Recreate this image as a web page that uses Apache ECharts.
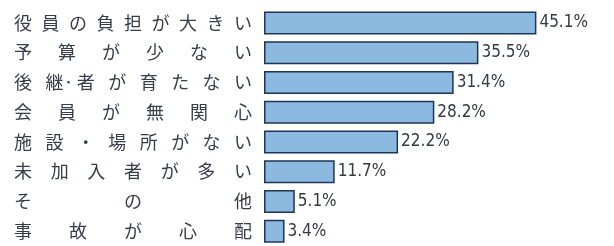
<!DOCTYPE html>
<html>
<head>
<meta charset="utf-8">
<script src="https://cdn.jsdelivr.net/npm/echarts@6/dist/echarts.min.js"></script>
<style>
  html, body { margin: 0; padding: 0; background: #fff; }
  #chart { width: 614px; height: 246px; }
</style>
</head>
<body>
<div id="chart"></div>
<script>
// 項目と割合（%）
const categories = ['役員の負担が大きい', '予算が少ない', '後継·者が育たない', '会員が無関心', '施設・場所がない', '未加入者が多い', 'その他', '事故が心配'];
const values = [45.1, 35.5, 31.4, 28.2, 22.2, 11.7, 5.1, 3.4];

// 文字を均等割りにする：最初の文字から最後の文字までの幅を揃える
const SPAN = 220;
function chars(s) {
  // 中黒の小さい点は前の文字にくっつける
  const out = [];
  for (const ch of s) {
    if (ch === '·' && out.length) out[out.length - 1] += ch;
    else out.push(ch);
  }
  return out;
}
const rich = { e: { width: 20, align: 'left' } };
categories.forEach(c => {
  const n = chars(c).length;
  rich['c' + n] = { width: SPAN / (n - 1), align: 'left' };
});
Object.keys(rich).forEach(k => {
  Object.assign(rich[k], { fontFamily: 'Noto Sans CJK JP', fontSize: 18, color: '#343d48' });
});

const chart = echarts.init(document.getElementById('chart'));
chart.setOption({
  animation: false,
  grid: { left: 264, right: 48, top: 8, height: 243 },
  xAxis: {
    type: 'value',
    min: 0,
    max: 50,
    show: false
  },
  yAxis: {
    type: 'category',
    data: categories,
    inverse: true,
    axisLine: { show: false },
    axisTick: { show: false },
    axisLabel: {
      margin: 10,
      rich: rich,
      formatter: (s) => {
        const cs = chars(s);
        const n = cs.length;
        return cs.map((ch, i) => i === n - 1 ? '{e|' + ch + '}' : '{c' + n + '|' + ch + '}').join('');
      }
    }
  },
  series: [
    {
      type: 'bar',
      data: values,
      barWidth: 23,
      itemStyle: {
        color: '#8bb9df',
        borderColor: '#1f3553',
        borderWidth: 1.5
      },
      label: {
        show: true,
        position: 'right',
        distance: 3,
        formatter: '{c}%',
        fontFamily: '"Liberation Sans Narrow", "DejaVu Sans Condensed", sans-serif',
        fontSize: 17,
        color: '#333a42'
      }
    }
  ]
});

window.addEventListener('resize', () => {
  chart.resize();
});
</script>
</body>
</html>
